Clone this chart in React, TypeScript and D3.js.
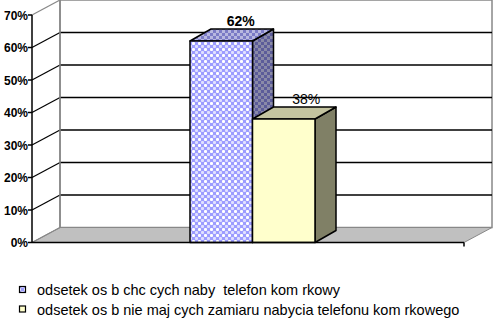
import React from "react";
import * as d3 from "d3";

const seriesNames = [
  "odsetek os b chc cych naby  telefon kom rkowy",
  "odsetek os b nie maj cych zamiaru nabycia telefonu kom rkowego",
];
const seriesValues = [0.62, 0.38];
const valueLabels = ["62%", "38%"];
const yTicks = [0, 0.1, 0.2, 0.3, 0.4, 0.5, 0.6, 0.7];

const W = 495, H = 318;
const X0 = 32, X1 = 464;
const WDX = 28, WDY = -15;
const BDX = 21, BDY = -12;

export default function App() {
  const y = d3.scaleLinear().domain([0, 0.7]).range([242.5, 15]);
  const xb = d3.scaleBand<string>().domain(seriesNames).range([190, 315]).padding(0);
  const bw = xb.bandwidth();
  const fmt = d3.format(".0%");
  const fronts = ["url(#pat1)", "#ffffcc"];
  const tops = ["url(#pat1top)", "#c4c4a0"];
  const sides = ["url(#pat1side)", "#808066"];
  const y0 = y(0);
  return (
    <svg width={W} height={H} style={{ position: "absolute", left: 0, top: 0, background: "#fff" }}
      fontFamily="'Liberation Sans', Arial, sans-serif">
      <defs>
        <pattern id="pat1" width="6" height="6" patternUnits="userSpaceOnUse">
          <rect width="6" height="6" fill="#9c9cff" />
          <rect x="0" y="0" width="3" height="3" fill="#ffffff" rx="1" />
          <rect x="3" y="3" width="3" height="3" fill="#e0e0ff" rx="1" />
        </pattern>
        <pattern id="pat1top" width="6" height="6" patternUnits="userSpaceOnUse">
          <rect width="6" height="6" fill="#7b7bc6" />
          <rect x="0" y="0" width="3" height="3" fill="#b8b8e0" />
          <rect x="3" y="3" width="3" height="3" fill="#b8b8e0" />
        </pattern>
        <pattern id="pat1side" width="6" height="6" patternUnits="userSpaceOnUse">
          <rect width="6" height="6" fill="#5c5c99" />
          <rect x="0" y="0" width="3" height="3" fill="#8a8aa8" />
          <rect x="3" y="3" width="3" height="3" fill="#8a8aa8" />
        </pattern>
      </defs>
      {/* back wall */}
      <rect x={X0 + WDX} y={y(0.7) + WDY} width={X1 - X0} height={y0 - y(0.7)} fill="#fff" stroke="#888" strokeWidth={1.5} />
      {/* floor */}
      <polygon
        points={`${X0},${y0} ${X1},${y0} ${X1 + WDX},${y0 + WDY} ${X0 + WDX},${y0 + WDY}`}
        fill="#c0c0c0" stroke="#888" strokeWidth={1} />
      {/* gridlines */}
      {yTicks.map((t, i) => {
        const edge = i === 0 || i === yTicks.length - 1;
        return (
          <g key={i}>
            <line x1={X0} y1={y(t)} x2={X0 + WDX} y2={y(t) + WDY} stroke={edge ? "#888" : "#000"} strokeWidth={1.2} />
            {!edge && <line x1={X0 + WDX} y1={y(t) + WDY} x2={X1 + WDX} y2={y(t) + WDY} stroke="#000" strokeWidth={1.5} />}
          </g>
        );
      })}
      <line x1={X0 + WDX} y1={y(0.7) + WDY} x2={X0 + WDX} y2={y0 + WDY} stroke="#888" strokeWidth={1.5} />
      {/* bars */}
      {seriesNames.map((s, i) => {
        const xl = xb(s)!;
        const xr = xl + bw;
        const yt = y(seriesValues[i]);
        return (
          <g key={s} stroke="#000" strokeWidth={1.5} strokeLinejoin="round">
            <polygon points={`${xr},${yt} ${xr + BDX},${yt + BDY} ${xr + BDX},${y0 + BDY} ${xr},${y0}`} fill={sides[i]} />
            <polygon points={`${xl},${yt} ${xl + BDX},${yt + BDY} ${xr + BDX},${yt + BDY} ${xr},${yt}`} fill={tops[i]} />
            <rect x={xl} y={yt} width={bw} height={y0 - yt} fill={fronts[i]} />
          </g>
        );
      })}
      {/* value labels */}
      {seriesNames.map((s, i) => (
        <text key={s} x={xb(s)! + bw / 2 + BDX / 2 + 9 + (i === 1 ? 3 : 0)} y={y(seriesValues[i]) + BDY - 3.5} textAnchor="middle"
          fontSize={14} fontWeight={i === 0 ? "bold" : "normal"} fill="#000">{valueLabels[i]}</text>
      ))}
      {/* axes */}
      <line x1={X0} y1={y(0.7)} x2={X0} y2={y0} stroke="#000" strokeWidth={1.5} />
      <line x1={X0} y1={y0} x2={X1} y2={y0} stroke="#000" strokeWidth={1.5} />
      <line x1={X1} y1={y0} x2={X1} y2={y0 + 4} stroke="#000" strokeWidth={1.5} />
      {yTicks.map((t, i) => (
        <g key={i}>
          <line x1={X0 - 4} y1={y(t)} x2={X0} y2={y(t)} stroke="#000" strokeWidth={1.5} />
          <text x={X0 - 4} y={y(t) + 4.5} textAnchor="end" fontSize={12} fontWeight="bold" fill="#000">{fmt(t)}</text>
        </g>
      ))}
      {/* legend */}
      {seriesNames.map((s, i) => (
        <g key={s} transform={`translate(0, ${i * 19.5})`}>
          <rect x={19.5} y={286.5} width={6} height={6} fill={i === 0 ? "url(#pat1)" : "#ffffcc"} stroke="#000" strokeWidth={1.2} />
          <text x={37} y={295} fontSize={14.5} fill="#000" style={{ whiteSpace: "pre" }}>{s}</text>
        </g>
      ))}
    </svg>
  );
}
